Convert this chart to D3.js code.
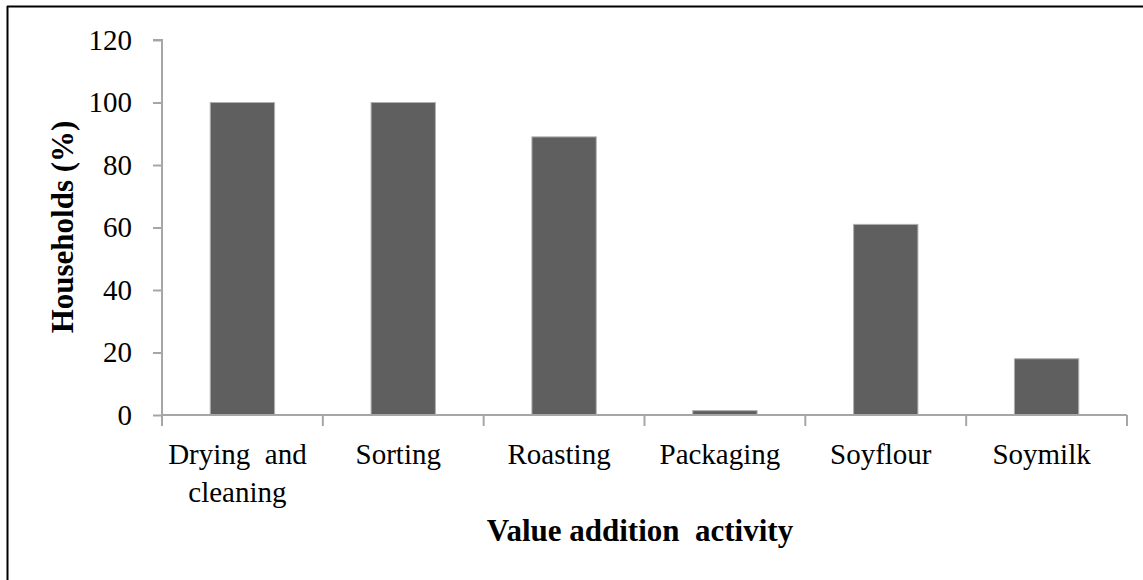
<!DOCTYPE html>
<html>
<head>
<meta charset="utf-8">
<script src="https://cdn.jsdelivr.net/npm/d3@7"></script>
<style>
  html, body { margin: 0; padding: 0; background: #fff; }
  svg { display: block; }
  text { font-family: "Liberation Serif", "Times New Roman", serif; fill: #000; }
</style>
</head>
<body>
<svg id="chart" width="1143" height="580"></svg>
<script>
// Share of households doing each value addition activity
const categories = ["Drying and cleaning", "Sorting", "Roasting", "Packaging", "Soyflour", "Soymilk"];
const categoryLines = [["Drying  and", "cleaning"], ["Sorting"], ["Roasting"], ["Packaging"], ["Soyflour"], ["Soymilk"]];
const households = [100, 100, 89, 1.4, 61, 18];
const yTicks = [0, 20, 40, 60, 80, 100, 120];
const yTitle = "Households (%)";
const xTitle = "Value addition  activity";

const svg = d3.select("#chart");
const axisColor = "#a6a6a6";

// frame: top and left edges
svg.append("line").attr("x1", 7).attr("x2", 1143).attr("y1", 6.5).attr("y2", 6.5)
  .attr("stroke", "#000").attr("stroke-width", 2);
svg.append("line").attr("x1", 7.5).attr("x2", 7.5).attr("y1", 6).attr("y2", 580)
  .attr("stroke", "#000").attr("stroke-width", 2);

const x = d3.scaleBand().domain(categories).range([162, 1127])
  .paddingInner(0.6).paddingOuter(0.3);
const y = d3.scaleLinear().domain([0, 120]).range([415, 40]);

// y axis
const yAxis = svg.append("g").attr("transform", "translate(162,0)")
  .call(d3.axisLeft(y).tickValues(yTicks).tickSize(9).tickPadding(21).tickFormat(d3.format("d")));
yAxis.select(".domain").attr("stroke", axisColor).attr("stroke-width", 2)
  .attr("d", `M-9,${y(120)}H0V${y(0)}`);
yAxis.selectAll(".tick line").attr("stroke", axisColor).attr("stroke-width", 2);
yAxis.selectAll(".tick text").attr("font-size", 29).attr("fill", "#000")
  .attr("font-family", "Liberation Serif, serif");

// bars
svg.append("g").selectAll("rect").data(categories).join("rect")
  .attr("x", d => x(d))
  .attr("y", (d, i) => y(households[i]))
  .attr("width", x.bandwidth())
  .attr("height", (d, i) => y(0) - y(households[i]))
  .attr("fill", "#5f5f5f")
  .attr("stroke", "#b0b0b0")
  .attr("stroke-width", 1);

// x axis line with ticks between categories
const xAxis = svg.append("g");
xAxis.append("line").attr("x1", 162).attr("x2", 1127).attr("y1", y(0)).attr("y2", y(0))
  .attr("stroke", axisColor).attr("stroke-width", 2);
const bounds = categories.map(c => x(c) - x.step() * x.paddingOuter()).concat([1127]);
xAxis.selectAll("line.tk").data(bounds).join("line").attr("class", "tk")
  .attr("x1", d => d).attr("x2", d => d)
  .attr("y1", y(0)).attr("y2", y(0) + 11)
  .attr("stroke", axisColor).attr("stroke-width", 2);

// category labels
const labels = svg.append("g").selectAll("text").data(categories).join("text")
  .attr("x", d => x(d) + x.bandwidth() / 2 - 5)
  .attr("y", 464)
  .attr("text-anchor", "middle")
  .attr("font-size", 29)
  .style("white-space", "pre");
labels.each(function(d, i) {
  const t = d3.select(this);
  categoryLines[i].forEach((line, j) => {
    t.append("tspan").attr("x", x(d) + x.bandwidth() / 2 - 5)
      .attr("dy", j === 0 ? 0 : 38).text(line);
  });
});

// axis titles
svg.append("text")
  .attr("x", 640).attr("y", 541)
  .attr("text-anchor", "middle")
  .attr("font-size", 31).attr("font-weight", "bold")
  .style("white-space", "pre")
  .text(xTitle);
svg.append("text")
  .attr("transform", "translate(73,227) rotate(-90)")
  .attr("text-anchor", "middle")
  .attr("font-size", 31).attr("font-weight", "bold")
  .text(yTitle);
</script>
</body>
</html>
